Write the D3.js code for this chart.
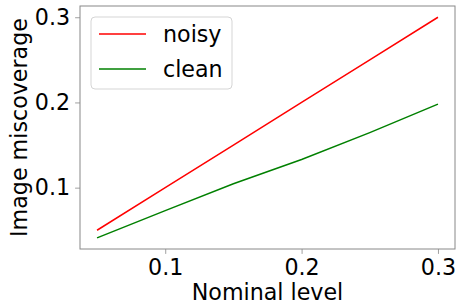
<!DOCTYPE html>
<html>
<head>
<meta charset="utf-8">
<script src="https://cdn.jsdelivr.net/npm/d3@7"></script>
<style>
  body { margin: 0; background: #fff; }
  svg { display: block; font-family: "DejaVu Sans", sans-serif; }
</style>
</head>
<body>
<div class="display"></div>
<script>
const nominal = [0.05, 0.1, 0.15, 0.2, 0.25, 0.3];
const noisy = [0.05, 0.1, 0.15, 0.2, 0.25, 0.3];
const clean = [0.041, 0.073, 0.1045, 0.133, 0.1646, 0.198];
const xTicks = [0.1, 0.2, 0.3];
const yTicks = [0.1, 0.2, 0.3];
const seriesNames = ['noisy', 'clean'];
const seriesColors = ['#ff0000', '#008000'];

const width = 457;
const height = 308;
const margin = {left: 80, right: 2, top: 6, bottom: 59};
const fontSize = 22.2;

const svg = d3.select('.display')
    .append('svg')
    .attr('width', width)
    .attr('height', height);

const x = d3.scaleLinear()
    .domain([0.0375, 0.3125])
    .range([margin.left, width - margin.right]);

const y = d3.scaleLinear()
    .domain([0.028, 0.3132])
    .range([height - margin.bottom, margin.top]);

const xAxis = d3.axisBottom(x).tickValues(xTicks).tickFormat(d3.format('.1f')).tickSize(4.9).tickPadding(5.5);
const yAxis = d3.axisLeft(y).tickValues(yTicks).tickFormat(d3.format('.1f')).tickSize(4.9).tickPadding(5);

const gx = svg.append('g')
    .attr('transform', `translate(0, ${height - margin.bottom})`)
    .call(xAxis);
const gy = svg.append('g')
    .attr('transform', `translate(${margin.left}, 0)`)
    .call(yAxis);

[gx, gy].forEach(g => {
    g.select('.domain').remove();
    g.selectAll('line').attr('stroke', '#888').attr('stroke-width', 0.8);
    g.selectAll('text')
        .attr('fill', '#000')
        .style('font-size', fontSize + 'px')
        .style('font-family', '"DejaVu Sans", sans-serif');
});

// frame
svg.append('rect')
    .attr('x', margin.left)
    .attr('y', margin.top)
    .attr('width', width - margin.right - margin.left)
    .attr('height', height - margin.bottom - margin.top)
    .attr('fill', 'none')
    .attr('stroke', '#888')
    .attr('stroke-width', 1);

const line = d3.line()
    .x((d, i) => x(nominal[i]))
    .y(d => y(d));

[noisy, clean].forEach((values, i) => {
    svg.append('path')
        .datum(values)
        .attr('fill', 'none')
        .attr('stroke', seriesColors[i])
        .attr('stroke-width', 1.5)
        .attr('d', line);
});

// legend
const legend = svg.append('g').attr('transform', 'translate(91, 17)');
legend.append('rect')
    .attr('width', 141)
    .attr('height', 72)
    .attr('rx', 4)
    .attr('fill', 'rgba(255,255,255,0.8)')
    .attr('stroke', '#d5d5d5')
    .attr('stroke-width', 1);

seriesNames.forEach((name, i) => {
    const row = legend.append('g').attr('transform', `translate(0, ${17 + i * 35})`);
    row.append('line')
        .attr('x1', 8)
        .attr('x2', 55)
        .attr('stroke', seriesColors[i])
        .attr('stroke-width', 1.5);
    row.append('text')
        .attr('x', 72)
        .attr('y', 8)
        .style('font-size', fontSize + 'px')
        .text(name);
});

svg.append('text')
    .attr('x', (margin.left + width - margin.right) / 2)
    .attr('y', 300)
    .attr('text-anchor', 'middle')
    .style('font-size', fontSize + 'px')
    .text('Nominal level');

svg.append('text')
    .attr('transform', `translate(27, ${(margin.top + height - margin.bottom) / 2}) rotate(-90)`)
    .attr('text-anchor', 'middle')
    .style('font-size', fontSize + 'px')
    .text('Image miscoverage');
</script>
</body>
</html>
